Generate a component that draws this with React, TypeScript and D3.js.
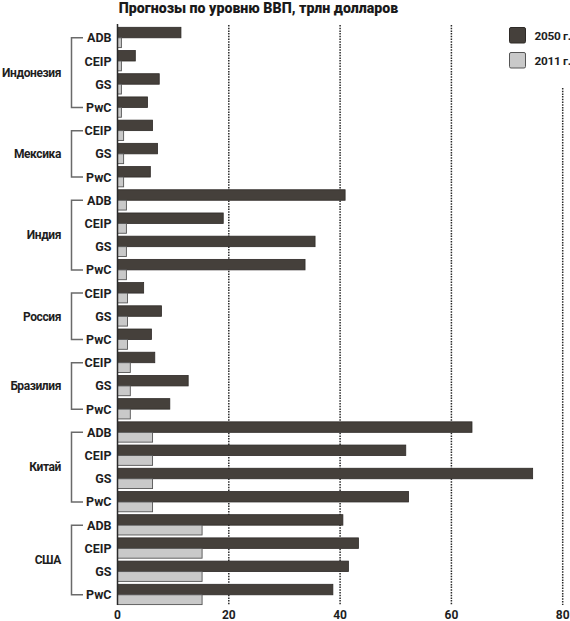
import React from "react";
import * as d3 from "d3";

const title = "Прогнозы по уровню ВВП, трлн долларов";
const countries = ["Индонезия", "Мексика", "Индия", "Россия", "Бразилия", "Китай", "США"];
const sources = [
  ["ADB", "CEIP", "GS", "PwC"],
  ["CEIP", "GS", "PwC"],
  ["ADB", "CEIP", "GS", "PwC"],
  ["CEIP", "GS", "PwC"],
  ["CEIP", "GS", "PwC"],
  ["ADB", "CEIP", "GS", "PwC"],
  ["ADB", "CEIP", "GS", "PwC"],
];
const gdp2050 = [
  [11.4, 3.2, 7.5, 5.4],
  [6.3, 7.2, 5.9],
  [40.9, 19.0, 35.5, 33.7],
  [4.7, 7.9, 6.1],
  [6.7, 12.7, 9.4],
  [63.7, 51.8, 74.6, 52.3],
  [40.5, 43.3, 41.5, 38.7],
];
const gdp2011 = [0.7, 1.1, 1.6, 1.8, 2.3, 6.3, 15.2];
const xTicks = [0, 20, 40, 60, 80];
const legendLabels = ["2050 г.", "2011 г."];

const DARK = "#45403b";
const LIGHT = "#c9c9c9";
const FONT = "Roboto, 'Open Sans', sans-serif";

type Item = { country: number; source: string; v2050: number; v2011: number; idx: number };

export default function App() {
  const items: Item[] = [];
  countries.forEach((_, ci) => {
    sources[ci].forEach((s, si) => {
      items.push({ country: ci, source: s, v2050: gdp2050[ci][si], v2011: gdp2011[ci], idx: items.length });
    });
  });

  const x = d3.scaleLinear().domain([0, 80]).range([117.5, 562.7]);
  const y = d3.scaleLinear().domain([0, items.length - 1]).range([27.3, 584.3]);
  const darkH = 10.5;
  const lightH = 9.8;

  const groups = countries.map((c, ci) => {
    const its = items.filter((it) => it.country === ci);
    const first = its[0].idx;
    const last = its[its.length - 1].idx;
    return { name: c, y1: y(first) + darkH, y2: y(last) + darkH };
  });

  return (
    <svg
      width={570}
      height={621}
      style={{ position: "absolute", left: 0, top: 0, background: "#fff" }}
      fontFamily={FONT}
    >
      <rect x={0} y={0} width={570} height={621} fill="#fff" />
      <text x={258.5} y={12.8} textAnchor="middle" fontSize={14.2} fontWeight={900} fill="#1a1a1a">
        {title}
      </text>

      {/* grid lines */}
      {xTicks.slice(1).map((t) => (
        <line
          key={t}
          x1={x(t)}
          x2={x(t)}
          y1={t === 80 ? 88 : 25}
          y2={605}
          stroke="#2a2a2a"
          strokeWidth={1.5}
          strokeDasharray="1.5,1.2"
        />
      ))}

      {/* bars */}
      {items.map((it) => (
        <g key={it.idx}>
          <rect
            x={x(0)}
            y={y(it.idx)}
            width={x(it.v2050) - x(0)}
            height={darkH}
            fill={DARK}
            stroke="#2e2a27"
            strokeWidth={0.8}
          />
          <rect
            x={x(0)}
            y={y(it.idx) + darkH}
            width={x(it.v2011) - x(0)}
            height={lightH}
            fill={LIGHT}
            stroke="#555"
            strokeWidth={0.9}
          />
          <text
            x={111.5}
            y={y(it.idx) + darkH + 4.5}
            textAnchor="end"
            fontSize={12.5}
            fontWeight={700}
            fill="#1e1e1e"
          >
            {it.source}
          </text>
        </g>
      ))}

      {/* axis line */}
      <line x1={x(0)} x2={x(0)} y1={24} y2={605} stroke="#2a2a2a" strokeWidth={1.5} />

      {/* brackets & country labels */}
      {groups.map((g) => (
        <g key={g.name}>
          <path
            d={`M83,${g.y1}H71.5V${g.y2}H83`}
            fill="none"
            stroke="#6a6a6a"
            strokeWidth={1.5}
          />
          <text
            x={61}
            y={(g.y1 + g.y2) / 2 + 4.3}
            textAnchor="end"
            fontSize={12}
            fontWeight={700}
            letterSpacing={-0.4}
            fill="#1e1e1e"
          >
            {g.name}
          </text>
        </g>
      ))}

      {/* x tick labels */}
      {xTicks.map((t) => (
        <text
          key={t}
          x={x(t)}
          y={618.5}
          textAnchor="middle"
          fontSize={12}
          fontWeight={700}
          fill="#1e1e1e"
        >
          {t}
        </text>
      ))}

      {/* legend */}
      {legendLabels.map((l, i) => (
        <g key={l}>
          <rect
            x={509.5}
            y={27.5 + i * 25}
            width={16}
            height={15.5}
            rx={1.5}
            fill={i === 0 ? DARK : LIGHT}
            stroke={i === 0 ? "#2e2a27" : "#555"}
            strokeWidth={1}
          />
          <text
            x={534.5}
            y={35.3 + i * 25 + 4.3}
            fontSize={11.8}
            fontWeight={700}
            letterSpacing={-0.3}
            fill="#1e1e1e"
          >
            {l}
          </text>
        </g>
      ))}
    </svg>
  );
}
